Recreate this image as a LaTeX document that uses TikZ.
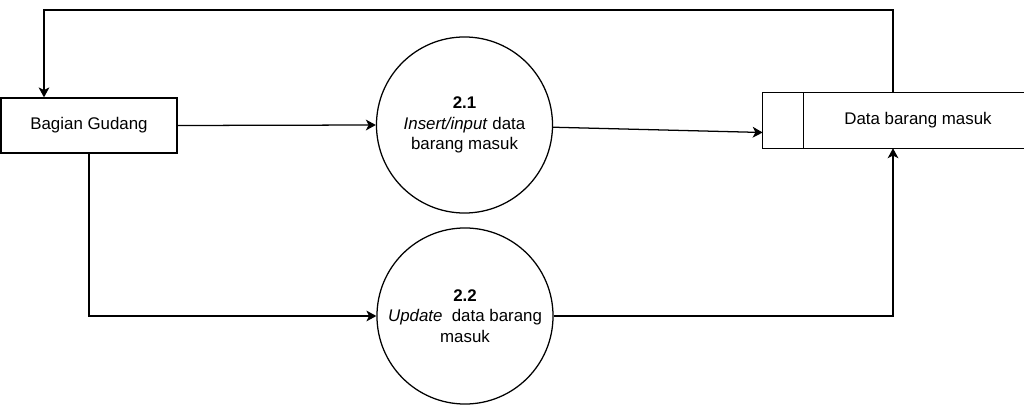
\documentclass[tikz,border=0pt]{standalone}
\usepackage{fontspec}
\setmainfont{Liberation Sans}
\usetikzlibrary{arrows.meta,calc}

\tikzset{
  flow/.style={-{Stealth[length=0.25cm,width=0.27cm,inset=0.07cm]}, line width=0.9pt},
  entity/.style={draw, line width=0.9pt, minimum width=4.4cm, minimum height=1.375cm, inner sep=0pt},
  process/.style={draw, circle, line width=0.9pt, minimum size=4.4cm, inner sep=0pt, align=center},
  datastore/.style={minimum width=7.75cm, minimum height=1.375cm, inner sep=0pt}
}

\begin{document}
\begin{tikzpicture}[x=0.025cm, y=-0.025cm, font=\fontsize{12pt}{14.5pt}\selectfont]
  % Fix the frame
  \useasboundingbox (0,0) rectangle (1024,406);
  \clip (0,0) rectangle (1024,406);

  % External entity
  \node[entity] (gudang) at (89,125.5) {Bagian Gudang};

  % Processes
  \node[process] (p1) at (464.5,125) {\textbf{2.1}\\\textit{Insert/input} data\\barang masuk};
  \node[process] (p2) at (465,316) {\textbf{2.2}\\\textit{Update}\ \ data barang\\masuk};

  % Data store, open on the right
  \node[datastore] (store) at (918,120.5) {Data barang masuk};
  \draw[line width=0.9pt] (store.north east) -- (store.north west) -- (store.south west) -- (store.south east);
  \draw[line width=0.9pt] ($(store.north west)+(41,0)$) -- ($(store.south west)+(41,0)$);

  % Flows
  \coordinate (turn) at (893,10);
  \coordinate (back) at (44,10);
  \draw[flow] (gudang.east) -- (p1.west);
  \draw[flow] (p1) -- ($(store.west)+(0,12)$);
  \draw[flow] (gudang.south) |- (p2.west);
  \draw[flow] (p2.east) -| (turn |- store.south);
  \draw[flow] (turn |- store.north) -- (turn) -- (back) -- (back |- gudang.north);
\end{tikzpicture}
\end{document}
